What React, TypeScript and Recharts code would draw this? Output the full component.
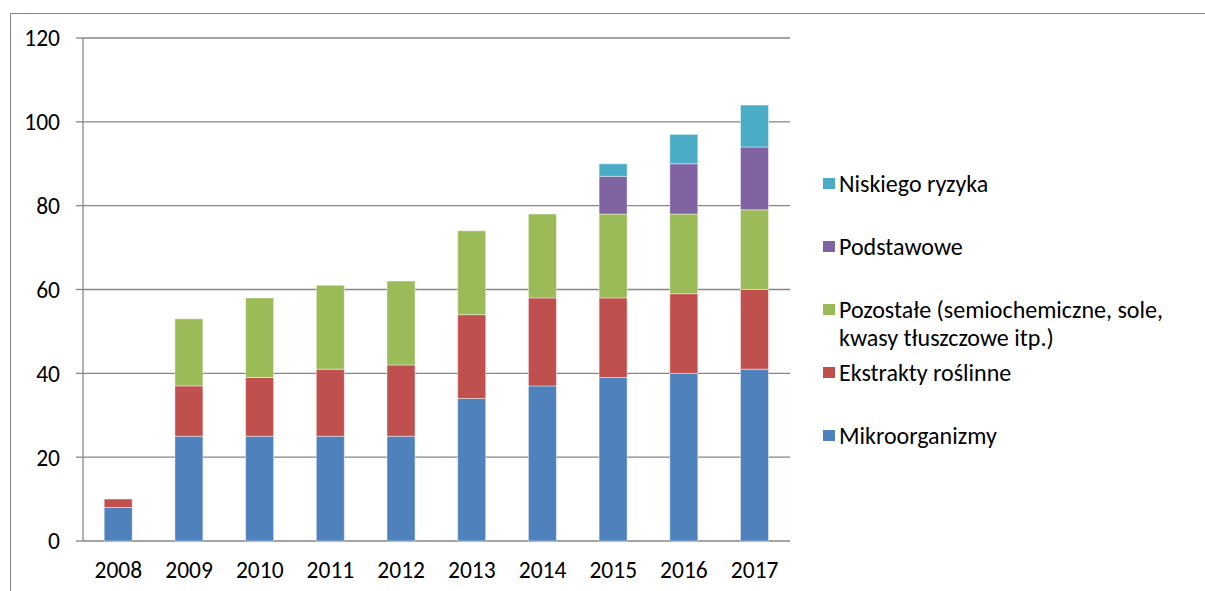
import React from "react";
import { BarChart, Bar, XAxis, YAxis, CartesianGrid } from "recharts";

const years = ["2008", "2009", "2010", "2011", "2012", "2013", "2014", "2015", "2016", "2017"];

const mikroorganizmy = [8, 25, 25, 25, 25, 34, 37, 39, 40, 41];
const ekstraktyRoslinne = [2, 12, 14, 16, 17, 20, 21, 19, 19, 19];
const pozostale = [null, 16, 19, 20, 20, 20, 20, 20, 19, 19];
const podstawowe = [null, null, null, null, null, null, null, 9, 12, 15];
const niskiegoRyzyka = [null, null, null, null, null, null, null, 3, 7, 10];

const yTicks = [0, 20, 40, 60, 80, 100, 120];
const edgeTicks = [0, 1, 2, 3, 4, 5, 6, 7, 8, 9, 10];

const series = [
  { key: "mikro", name: "Mikroorganizmy", color: "#4F81BD", values: mikroorganizmy },
  { key: "ekstrakty", name: "Ekstrakty roślinne", color: "#C0504D", values: ekstraktyRoslinne },
  { key: "pozostale", name: "Pozostałe (semiochemiczne, sole, kwasy tłuszczowe itp.)", color: "#9BBB59", values: pozostale },
  { key: "podstawowe", name: "Podstawowe", color: "#8064A2", values: podstawowe },
  { key: "niskie", name: "Niskiego ryzyka", color: "#4BACC6", values: niskiegoRyzyka },
];

const data = years.map((year, i) => {
  const row: Record<string, any> = { year };
  series.forEach((s) => {
    row[s.key] = s.values[i];
  });
  return row;
});

const FONT = "Carlito, Calibri, Lato, sans-serif";
const GREY = "#868686";

// legend is drawn top-down in reverse series order, like Excel does
function LegendBox() {
  const items = [...series].reverse();
  return (
    <div
      style={{
        position: "absolute",
        left: 823,
        top: 170,
        width: 380,
        fontFamily: FONT,
        fontSize: 24,
        color: "#000",
        lineHeight: "28px",
      }}
    >
      {items.map((s) => (
        <div key={s.key} style={{ height: 63, display: "flex", alignItems: "flex-start" }}>
          <span
            style={{
              display: "inline-block",
              width: 12,
              height: 11,
              background: s.color,
              marginTop: 8,
              marginRight: 4,
              flexShrink: 0,
            }}
          />
          <span style={{ width: 350 }}>
            {s.key === "pozostale" ? (
              <>
                Pozostałe (semiochemiczne, sole,
                <br />
                kwasy tłuszczowe itp.)
              </>
            ) : (
              s.name
            )}
          </span>
        </div>
      ))}
    </div>
  );
}

export default function App() {
  return (
    <div style={{ position: "absolute", left: 0, top: 0, width: 1205, height: 591, background: "#fff", overflow: "hidden" }}>
      <div
        style={{
          position: "absolute",
          left: 10,
          top: 13,
          width: 1300,
          height: 700,
          borderLeft: `1px solid ${GREY}`,
          borderTop: `1px solid ${GREY}`,
        }}
      />
      <div style={{ position: "absolute", left: 0, top: 0 }}>
        <BarChart
          width={1205}
          height={591}
          data={data}
          margin={{ top: 38, right: 415, left: 23, bottom: 20 }}
          barCategoryGap="30%"
        >
          <CartesianGrid horizontal vertical={false} stroke={GREY} strokeWidth={1.3} />
          <XAxis
            xAxisId="edges"
            type="number"
            domain={[0, 10]}
            ticks={edgeTicks}
            tickFormatter={() => ""}
            tickSize={7}
            height={0}
            stroke={GREY}
            axisLine={{ stroke: GREY, strokeWidth: 1.3 }}
            tickLine={{ stroke: GREY, strokeWidth: 1.3 }}
          />
          <XAxis
            xAxisId="cat"
            dataKey="year"
            height={30}
            axisLine={false}
            tickLine={false}
            tickSize={0}
            tickMargin={20}
            tick={{ fontFamily: FONT, fontSize: 23.5, fill: "#000" }}
            interval={0}
          />
          <YAxis
            domain={[0, 120]}
            ticks={yTicks}
            width={60}
            tickSize={7}
            tickMargin={16}
            axisLine={{ stroke: GREY, strokeWidth: 1.3 }}
            tickLine={{ stroke: GREY, strokeWidth: 1.3 }}
            tick={{ fontFamily: FONT, fontSize: 23.5, fill: "#000" }}
          />
          {series.map((s) => (
            <Bar
              key={s.key}
              dataKey={s.key}
              name={s.name}
              stackId="a"
              xAxisId="cat"
              fill={s.color}
              stroke="rgba(255,255,255,0.55)"
              strokeWidth={0.8}
              isAnimationActive={false}
            />
          ))}
        </BarChart>
      </div>
      <LegendBox />
    </div>
  );
}
